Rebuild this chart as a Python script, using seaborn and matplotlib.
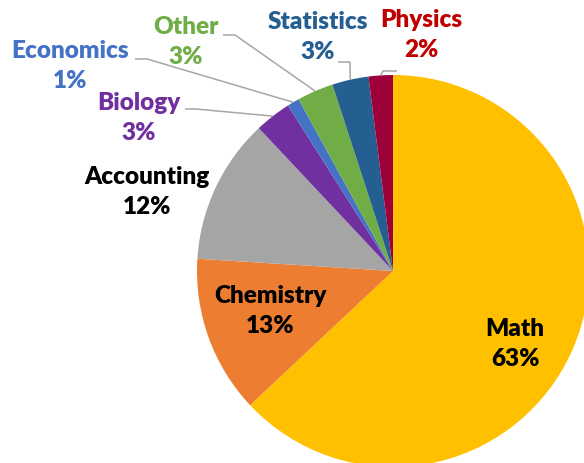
import numpy as np
import matplotlib
matplotlib.use("Agg")
import matplotlib.pyplot as plt
import seaborn as sns

# ---- data ----
categories = ["Math", "Chemistry", "Accounting", "Biology", "Economics", "Other", "Statistics", "Physics"]
shares = [63, 13, 12, 3, 1, 3, 3, 2]
slice_colors = ["#FFC000", "#ED7D31", "#A5A5A5", "#7030A0", "#4472C4", "#70AD47", "#255E91", "#9E0039"]
label_colors = ["#000000", "#000000", "#000000", "#7030A0", "#4472C4", "#70AD47", "#255E91", "#C00000"]

sns.set_theme(style="white")
plt.rcParams["font.family"] = ["Lato", "DejaVu Sans"]

W, H = 584, 463
fig = plt.figure(figsize=(W / 100, H / 100), dpi=100)
ax = fig.add_axes([0, 0, 1, 1])

cx, cy_top, R = 393, 271, 196
center = (cx, H - cy_top)

wedges, _ = ax.pie(shares, colors=slice_colors, startangle=90, counterclock=False,
                   radius=R, center=center, frame=True,
                   wedgeprops=dict(linewidth=0))
ax.set_xlim(0, W)
ax.set_ylim(0, H)
ax.set_aspect("equal")
ax.axis("off")

# label placement (pixel coords from top): text centre, and leader elbow/end
label_pos = {
    "Math": (515, 344),
    "Chemistry": (270, 311),
    "Accounting": (147, 192),
    "Biology": (139, 118),
    "Economics": (70, 66),
    "Other": (186, 42),
    "Statistics": (318, 37),
    "Physics": (421, 35),
}
leaders = {
    "Biology": [(196, 109), (185, 109)],
    "Economics": [(147, 59), (135, 59)],
    "Other": [(235, 35), (223, 35)],
    "Statistics": [(350, 62), (338, 62)],
    "Physics": [(383, 71), (397, 71)],
}

fs = 17.5
for w, cat, val, lc in zip(wedges, categories, shares, label_colors):
    tx, ty = label_pos[cat]
    ax.text(tx, H - ty, f"{cat}\n{val}%", ha="center", va="center", fontsize=fs,
            fontweight="heavy", color=lc, linespacing=1.45)
    if cat in leaders:
        mid = np.deg2rad((w.theta1 + w.theta2) / 2)
        rx = center[0] + R * np.cos(mid)
        ry = center[1] + R * np.sin(mid)
        pts = [(rx, ry)] + [(px, H - py) for px, py in leaders[cat]]
        xs, ys = zip(*pts)
        ax.plot(xs, ys, color="#A6A6A6", linewidth=1.1, solid_capstyle="butt")

fig.savefig("out.png", dpi=100)
